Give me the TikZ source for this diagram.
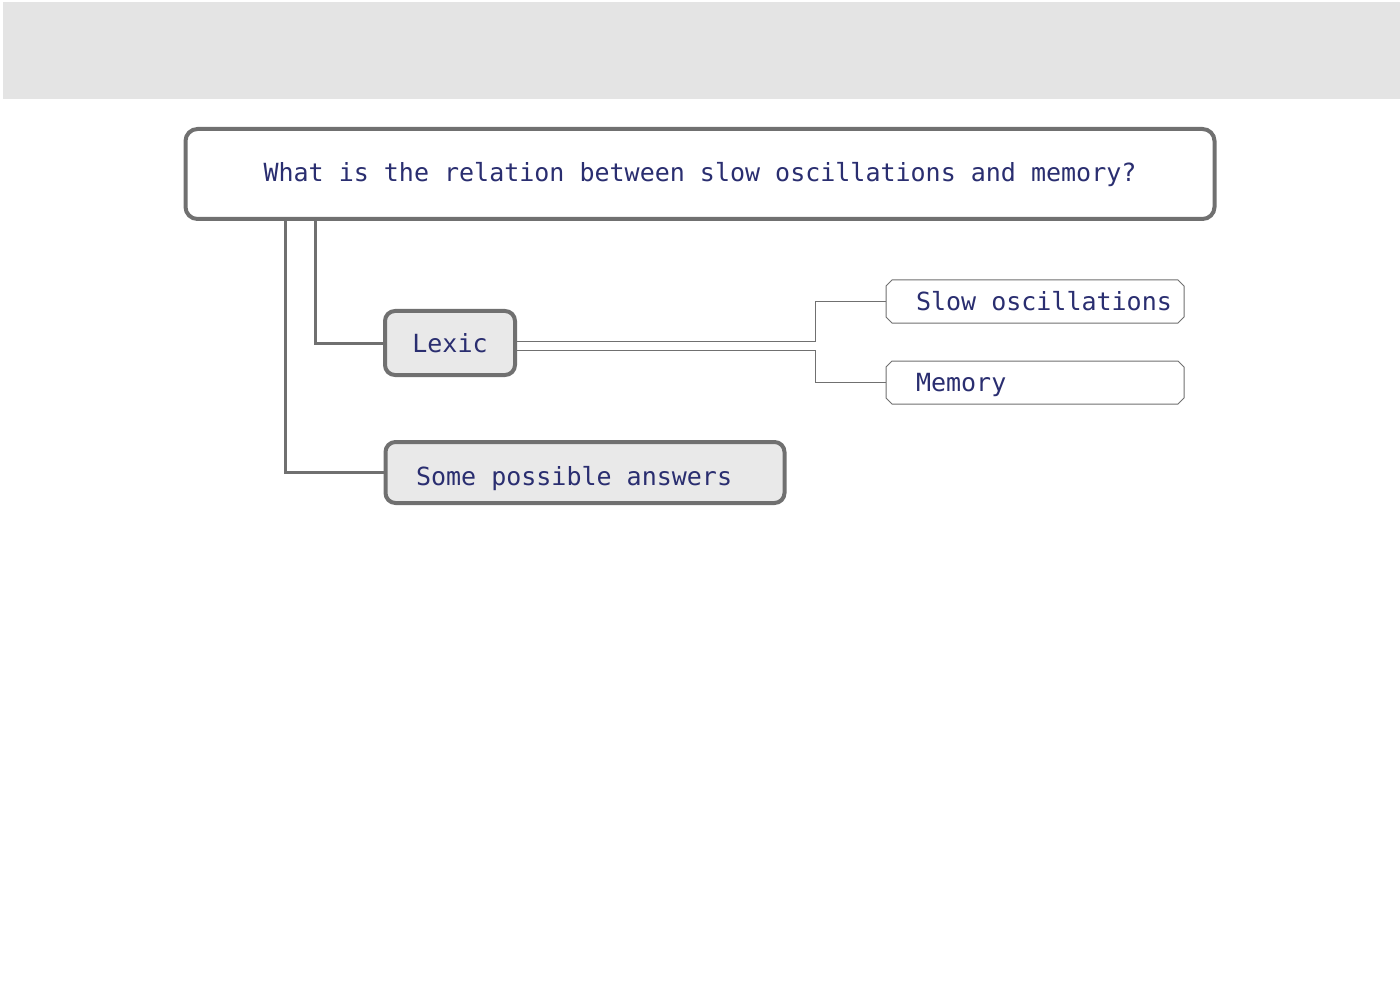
\documentclass[tikz,border=0pt]{standalone}
\usepackage{fontspec}
\setmonofont{DejaVu Sans Mono}
\usetikzlibrary{shapes.misc,calc}
\definecolor{bandgray}{HTML}{E4E4E4}
\definecolor{edgegray}{HTML}{707070}
\definecolor{boxfill}{HTML}{E9E9E9}
\definecolor{inkblue}{RGB}{42,46,112}
\begin{document}
\begin{tikzpicture}[x=1pt,y=-1pt,
  every node/.style={font=\ttfamily\fontsize{25}{29}\selectfont, text=inkblue,
    text height=23pt, text depth=5pt},
  mainbox/.style={draw=edgegray, line width=4pt, rounded corners=12pt, fill=white,
    minimum width=1029pt, minimum height=90pt, inner sep=0pt, text height=21pt},
  topicbox/.style={draw=edgegray, line width=4pt, rounded corners=10pt, fill=boxfill,
    inner sep=0pt},
  leafbox/.style={draw=edgegray, line width=1pt, chamfered rectangle,
    chamfered rectangle xsep=3pt, chamfered rectangle ysep=3pt, fill=white,
    minimum width=298pt, minimum height=43pt, inner sep=0pt},
  trunk/.style={draw=edgegray, line width=3pt},
  twig/.style={draw=edgegray, line width=1pt}]
\useasboundingbox (0,0) rectangle (1400,1000);
% header band
\fill[bandgray] (3,2) rectangle (1400,99);

% question
\node[mainbox] (title) at (700,174) {What is the relation between slow oscillations and memory?};

% first level
\node[topicbox, minimum width=130pt, minimum height=64pt, text height=24.4pt]
  (lexic) at (450,343) {Lexic};
\node[topicbox, minimum width=399pt, minimum height=61pt, text height=30pt]
  (answers) at (585,472.5) {\makebox[338pt][l]{Some possible answers}};

% second level
\node[leafbox] (slow) at (1035,301.5) {\makebox[238pt][l]{Slow oscillations}};
\node[leafbox, text height=23.5pt] (memory) at (1035,382.5) {\makebox[238pt][l]{Memory}};

% joints of the connectors
\coordinate (jlexic) at (315,0);
\coordinate (janswers) at (285,0);
\coordinate (jleaf) at (815,0);

% connectors from the question
\draw[trunk] (title.south -| jlexic) |- (lexic.west);
\draw[trunk] (title.south -| janswers) |- (answers.west);

% connectors from Lexic
\draw[twig] ([yshift=1.5pt]lexic.east) -- ([yshift=1.5pt]lexic.east -| jleaf) |- (slow.west);
\draw[twig] ([yshift=-7pt]lexic.east) -- ([yshift=-7pt]lexic.east -| jleaf) |- (memory.west);
\end{tikzpicture}
\end{document}
